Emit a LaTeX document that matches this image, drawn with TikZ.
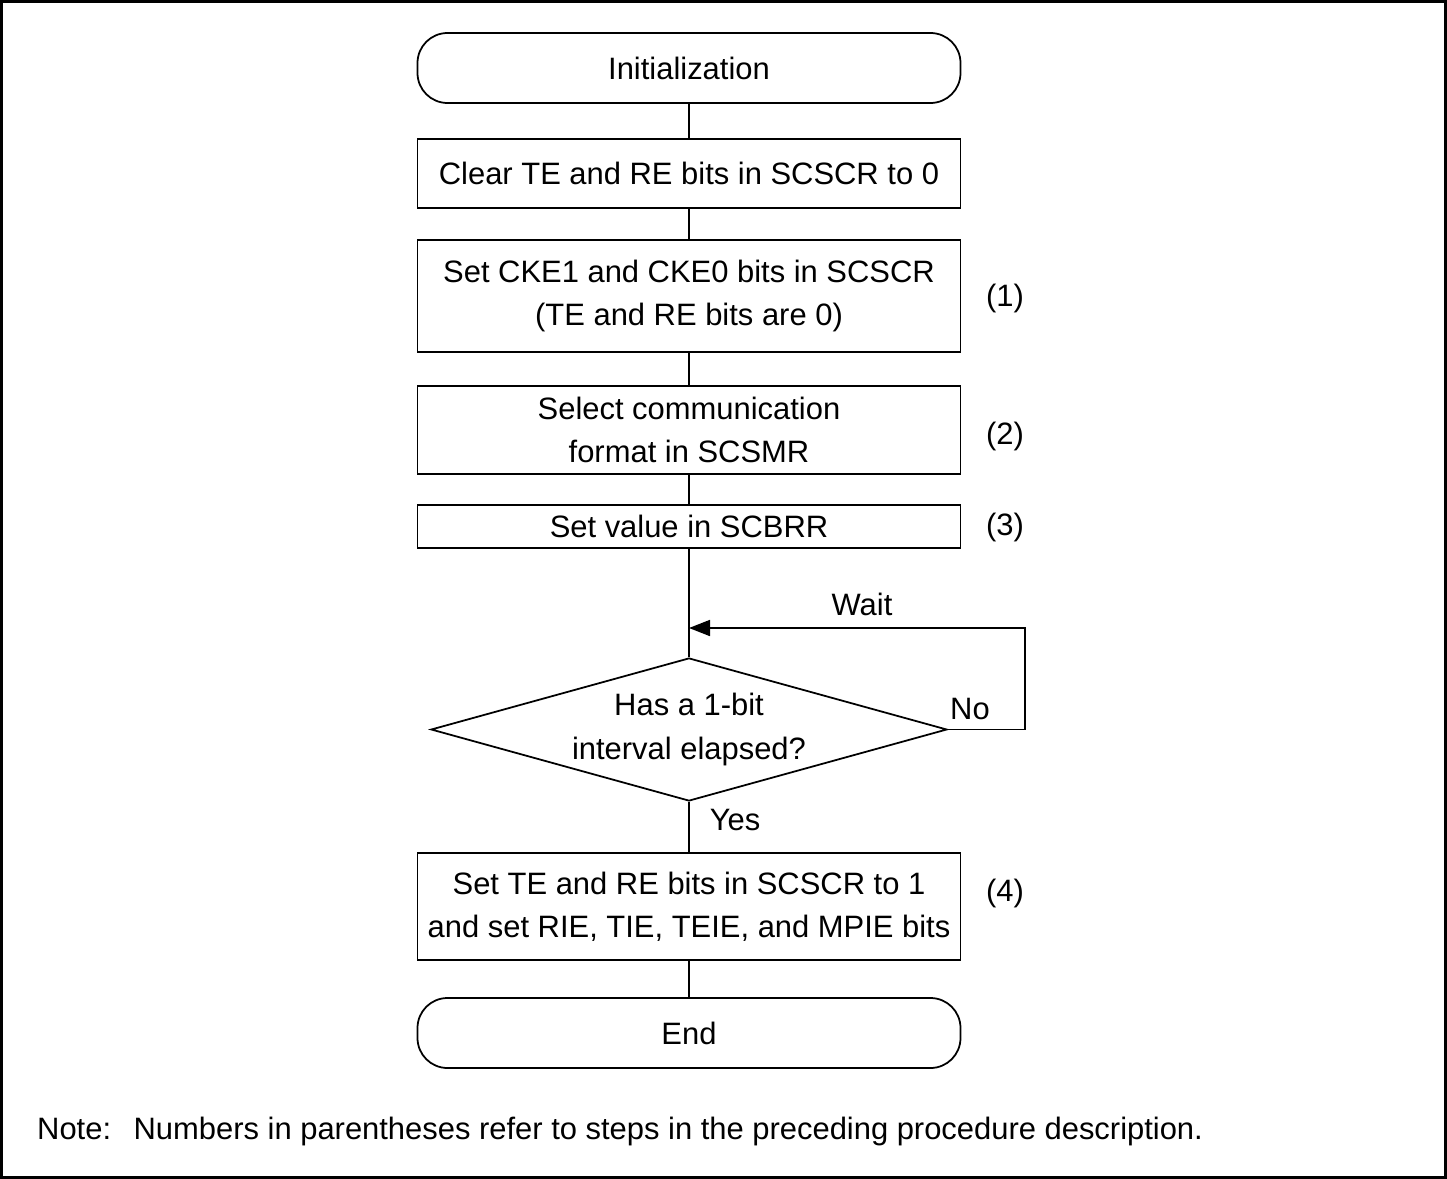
\documentclass[tikz,border=0pt]{standalone}
\usepackage{fontspec}
\setmainfont{Liberation Sans}
\usetikzlibrary{arrows.meta, positioning, shapes.geometric}

\begin{document}
\begin{tikzpicture}[font=\fontsize{17.6}{24.5}\selectfont,
    proc/.style={draw, line width=1pt, minimum width=10.86cm, align=center, inner sep=0pt},
    term/.style={proc, rounded corners=0.6cm, minimum height=1.4cm},
    decide/.style={draw, diamond, line width=1pt, aspect=3.6, minimum width=10.32cm, minimum height=2.86cm, inner sep=0pt, align=center},
    link/.style={line width=1pt}]
                \useasboundingbox (0,0) rectangle (28.94,-23.58);
                \draw[line width=1.4pt] (0.03,-0.03) rectangle (28.91,-23.55);
                % main column
                \node[term] (init) at (13.78,-1.36) {Initialization};
                \node[proc, minimum height=1.38cm] (clr) at (13.78,-3.47) {Clear TE and RE bits in SCSCR to 0};
                \node[proc, minimum height=2.24cm] (cke) at (13.78,-5.92) {Set CKE1 and CKE0 bits in SCSCR\\(TE and RE bits are 0)};
                \node[proc, minimum height=1.76cm] (fmt) at (13.78,-8.6) {Select communication\\format in SCSMR};
                \node[proc, minimum height=0.86cm] (brr) at (13.78,-10.53) {Set value in SCBRR};
                \node[decide] (elap) at (13.78,-14.59) {Has a 1-bit\\interval elapsed?};
                \node[proc, minimum height=2.14cm] (ena) at (13.78,-18.13) {Set TE and RE bits in SCSCR to 1\\and set RIE, TIE, TEIE, and MPIE bits};
                \node[term] (fin) at (13.78,-20.66) {End};
                % step numbers
                \node (s1) at (20.1,-5.96) {(1)};
                \node (s2) at (20.1,-8.72) {(2)};
                \node (s3) at (20.1,-10.54) {(3)};
                \node (s4) at (20.1,-17.86) {(4)};
                % connectors
                \draw[link] (init) -- (clr);
                \draw[link] (clr) -- (cke);
                \draw[link] (cke) -- (fmt);
                \draw[link] (fmt) -- (brr);
                \draw[link] (brr) -- (elap);
                \draw[link] (elap) -- (ena);
                \draw[link] (ena) -- (fin);
                \coordinate (back) at (20.5,-12.56);
                \coordinate (join) at (13.78,-12.56);
                \draw[link, -{Triangle[length=0.42cm,width=0.32cm]}] (elap.east) -| (back) -- (join);
                \node (wait) at (17.24,-12.08) {Wait};
                \node (no) at (19.4,-14.18) {No};
                \node (yes) at (14.7,-16.4) {Yes};
                \node[anchor=west] (note) at (0.62,-22.62) {Note:\hspace{0.45cm}Numbers in parentheses refer to steps in the preceding procedure description.};
            \end{tikzpicture}
\end{document}
